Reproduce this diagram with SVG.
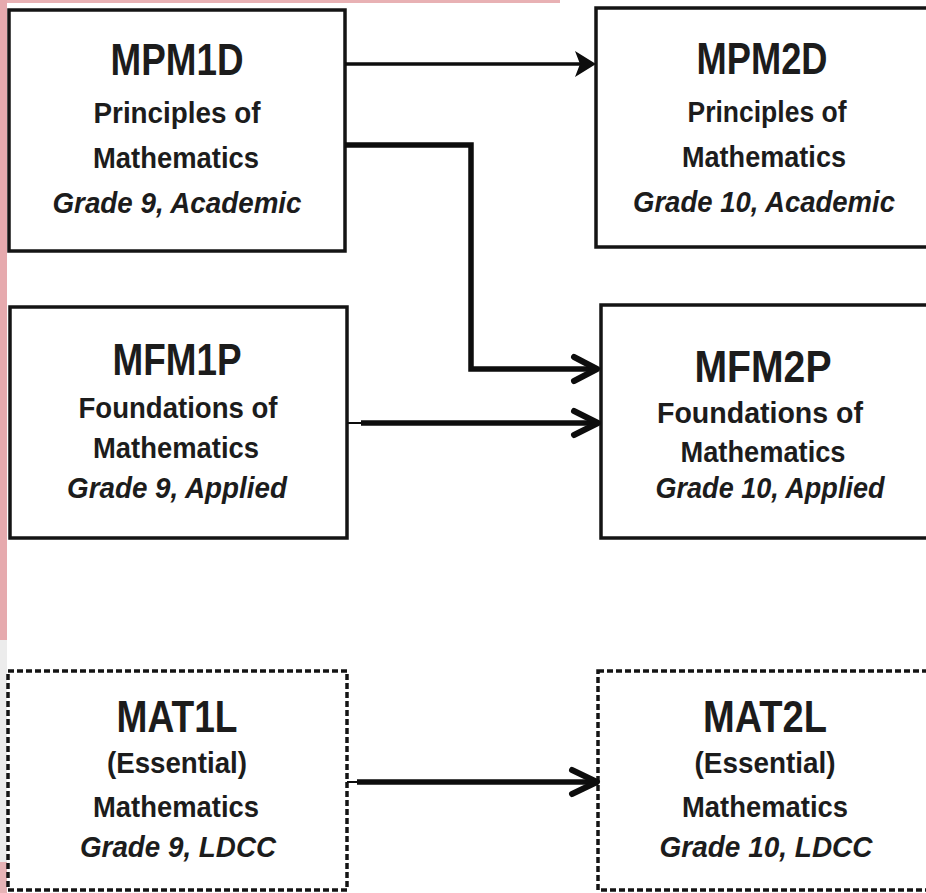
<svg xmlns="http://www.w3.org/2000/svg" width="926" height="893" viewBox="0 0 926 893">
<defs>
<style>
.box{fill:#fff;stroke:#141414;stroke-width:3.5}
.dash{fill:#fff;stroke:#141414;stroke-width:3.5;stroke-dasharray:6 3}
text{font-family:"Liberation Sans",Arial,sans-serif;font-weight:bold;fill:#1c1c1c;text-anchor:middle}
.t{font-size:44px}
.b{font-size:30px}
.i{font-size:30px;font-style:italic}
.ln{fill:none;stroke:#0d0d0d;stroke-linecap:butt;stroke-linejoin:miter}
.chev{fill:none;stroke:#0d0d0d;stroke-width:6;stroke-linecap:round;stroke-linejoin:round}
</style>
</defs>
<rect x="0" y="0" width="926" height="893" fill="#fff"/>
<g id="bg-strip">
<rect x="0" y="0" width="560" height="3" fill="#e8b1b4"/>
<rect x="0" y="0" width="7" height="640" fill="#e6aaae"/>
<rect x="0" y="640" width="7" height="253" fill="#ececec"/>
<rect x="0" y="862" width="7" height="31" fill="#e6b3b6"/>
</g>
<g id="MPM1D">
<rect class="box" x="9" y="10" width="336" height="241"/>
<text class="t" x="177" y="75" textLength="133" lengthAdjust="spacingAndGlyphs">MPM1D</text>
<text class="b" x="177" y="123" textLength="167" lengthAdjust="spacingAndGlyphs">Principles of</text>
<text class="b" x="176" y="168" textLength="166" lengthAdjust="spacingAndGlyphs">Mathematics</text>
<text class="i" x="177" y="213" textLength="249" lengthAdjust="spacingAndGlyphs">Grade 9, Academic</text>
</g>
<g id="MPM2D">
<rect class="box" x="596" y="8" width="345" height="239"/>
<text class="t" x="762" y="74" textLength="131" lengthAdjust="spacingAndGlyphs">MPM2D</text>
<text class="b" x="767" y="122" textLength="159" lengthAdjust="spacingAndGlyphs">Principles of</text>
<text class="b" x="764" y="167" textLength="164" lengthAdjust="spacingAndGlyphs">Mathematics</text>
<text class="i" x="764" y="212" textLength="262" lengthAdjust="spacingAndGlyphs">Grade 10, Academic</text>
</g>
<g id="MFM1P">
<rect class="box" x="10" y="307" width="337" height="231"/>
<text class="t" x="177" y="375" textLength="129" lengthAdjust="spacingAndGlyphs">MFM1P</text>
<text class="b" x="178" y="418" textLength="199" lengthAdjust="spacingAndGlyphs">Foundations of</text>
<text class="b" x="176" y="458" textLength="166" lengthAdjust="spacingAndGlyphs">Mathematics</text>
<text class="i" x="177" y="498" textLength="220" lengthAdjust="spacingAndGlyphs">Grade 9, Applied</text>
</g>
<g id="MFM2P">
<rect class="box" x="601" y="305" width="345" height="233"/>
<text class="t" x="763" y="382" textLength="137" lengthAdjust="spacingAndGlyphs">MFM2P</text>
<text class="b" x="760" y="423" textLength="206" lengthAdjust="spacingAndGlyphs">Foundations of</text>
<text class="b" x="763" y="462" textLength="165" lengthAdjust="spacingAndGlyphs">Mathematics</text>
<text class="i" x="770" y="498" textLength="229" lengthAdjust="spacingAndGlyphs">Grade 10, Applied</text>
</g>
<g id="MAT1L">
<rect class="dash" x="8" y="671" width="339" height="219"/>
<text class="t" x="177" y="732" textLength="121" lengthAdjust="spacingAndGlyphs">MAT1L</text>
<text class="b" x="177" y="773" textLength="140" lengthAdjust="spacingAndGlyphs">(Essential)</text>
<text class="b" x="176" y="817" textLength="166" lengthAdjust="spacingAndGlyphs">Mathematics</text>
<text class="i" x="178" y="857" textLength="196" lengthAdjust="spacingAndGlyphs">Grade 9, LDCC</text>
</g>
<g id="MAT2L">
<rect class="dash" x="598" y="671" width="345" height="219"/>
<text class="t" x="765" y="732" textLength="124" lengthAdjust="spacingAndGlyphs">MAT2L</text>
<text class="b" x="765" y="773" textLength="141" lengthAdjust="spacingAndGlyphs">(Essential)</text>
<text class="b" x="765" y="817" textLength="166" lengthAdjust="spacingAndGlyphs">Mathematics</text>
<text class="i" x="766" y="857" textLength="213" lengthAdjust="spacingAndGlyphs">Grade 10, LDCC</text>
</g>
<g id="connectors">
<line class="ln" x1="345" y1="64" x2="580" y2="64" stroke-width="3.5"/>
<polygon points="575,51 596,64 575,77 580,64" fill="#0d0d0d"/>
<polyline class="ln" points="345,145 471,145 471,369 595,369" stroke-width="5.5"/>
<polyline class="chev" points="574,357 597,369 574,381"/>
<line class="ln" x1="347" y1="423" x2="361" y2="423" stroke="#555" stroke-width="2"/>
<line class="ln" x1="361" y1="423" x2="595" y2="423" stroke-width="5.5"/>
<polyline class="chev" points="574,411 598,423 574,435"/>
<line class="ln" x1="347" y1="782" x2="357" y2="782" stroke="#555" stroke-width="2"/>
<line class="ln" x1="357" y1="782" x2="594" y2="782" stroke-width="5.5"/>
<polyline class="chev" points="572,770 597,782 572,794"/>
</g>
</svg>
